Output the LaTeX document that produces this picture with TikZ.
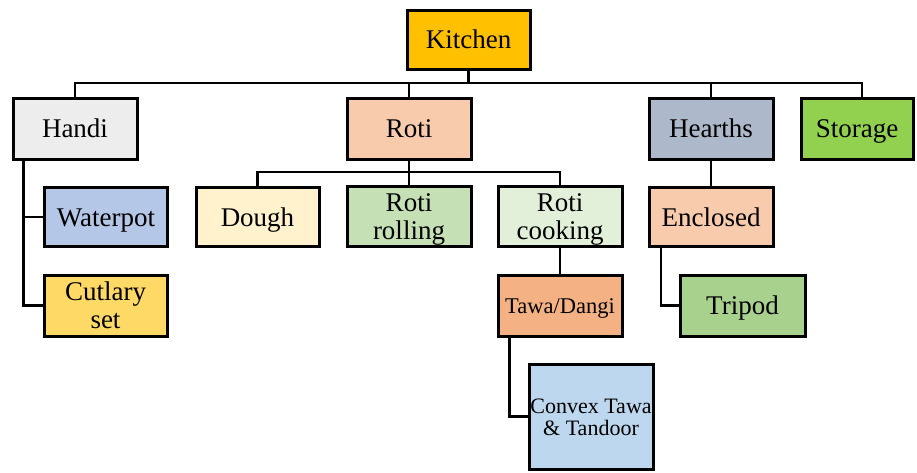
\documentclass[tikz,border=0pt]{standalone}
\usepackage{fontspec}
\setmainfont{Liberation Serif}
\definecolor{cKitchen}{HTML}{FFC000}
\definecolor{cHandi}{HTML}{EDEDED}
\definecolor{cRoti}{HTML}{F8CBAD}
\definecolor{cHearths}{HTML}{ADB9CA}
\definecolor{cStorage}{HTML}{92D050}
\definecolor{cWater}{HTML}{B4C7E7}
\definecolor{cCutlary}{HTML}{FFD966}
\definecolor{cDough}{HTML}{FFF2CC}
\definecolor{cRolling}{HTML}{C5E0B4}
\definecolor{cCooking}{HTML}{E2F0D9}
\definecolor{cTawa}{HTML}{F4B183}
\definecolor{cConvex}{HTML}{BDD7EE}
\definecolor{cEnclosed}{HTML}{F8CBAD}
\definecolor{cTripod}{HTML}{A9D18E}
\tikzset{
  box/.style={draw=black, line width=3pt, rectangle, inner sep=0pt, align=center,
    minimum width=124pt, minimum height=61pt,
    font=\fontsize{27}{28}\selectfont, text height=18pt, text depth=0pt},
  twoline/.style={text height=46pt, text depth=0pt},
  smalltext/.style={font=\fontsize{22.5}{22}\selectfont, text height=15pt, text depth=0pt},
  smalltwo/.style={font=\fontsize{22}{22}\selectfont, text height=37pt, text depth=0pt},
  link/.style={draw=black, line width=2.6pt}
}
\begin{document}
\begin{tikzpicture}[x=1pt,y=1pt]
\useasboundingbox (0,0) rectangle (917,-472);
% top level
\node[box, fill=cKitchen, minimum width=123pt, minimum height=59pt] (kitchen) at (468.5,-39.5) {Kitchen};
\node[box, fill=cHandi] (handi) at (75,-128.5) {Handi};
\node[box, fill=cRoti] (roti) at (409,-128.5) {Roti};
\node[box, fill=cHearths] (hearths) at (711,-128.5) {Hearths};
\node[box, fill=cStorage, minimum width=112pt] (storage) at (857,-128.5) {Storage};
% second level
\node[box, fill=cWater, minimum width=123pt, minimum height=59pt] (water) at (106,-217) {Waterpot};
\node[box, fill=cCutlary, minimum width=123pt, twoline] (cutlary) at (105.5,-305.5) {Cutlary\\set};
\node[box, fill=cDough, minimum width=123pt, minimum height=59pt] (dough) at (257.5,-217) {Dough};
\node[box, fill=cRolling, minimum height=60pt, twoline] (rolling) at (409,-216.5) {Roti\\rolling};
\node[box, fill=cCooking, minimum height=60pt, twoline] (cooking) at (560,-216.5) {Roti\\cooking};
\node[box, fill=cEnclosed, minimum height=59pt] (enclosed) at (711,-217) {Enclosed};
% third level
\node[box, fill=cTawa, smalltext] (tawa) at (560,-305.5) {Tawa/Dangi};
\node[box, fill=cTripod, minimum width=125pt] (tripod) at (742.5,-305.5) {Tripod};
\node[box, fill=cConvex, minimum height=105pt, smalltwo] (convex) at (591,-416.5) {Convex Tawa\\\& Tandoor};
% connectors
\coordinate (bus) at (468.5,-83);
\coordinate (rbus) at (409,-172);
\draw[link] (kitchen) -- (bus);
\draw[link] (handi.north) |- (bus) -| ([xshift=5pt]storage.north);
\draw[link] (roti.north) -- (roti.north |- bus);
\draw[link] (hearths.north) -- (hearths.north |- bus);
\draw[link] (roti) -- (rbus);
\draw[link] (dough.north) |- (rbus) -| (cooking.north);
\draw[link] (rolling.north) -- (rolling.north |- rbus);
\draw[link] ([xshift=12pt]handi.south west) |- (water.west);
\draw[link] ([xshift=12pt]handi.south west) |- (cutlary.west);
\draw[link] (cooking) -- (tawa);
\draw[link] ([xshift=13pt]tawa.south west) |- (convex.west);
\draw[link] (hearths) -- (enclosed);
\draw[link] ([xshift=13.5pt]enclosed.south west) |- (tripod.west);
\end{tikzpicture}
\end{document}
